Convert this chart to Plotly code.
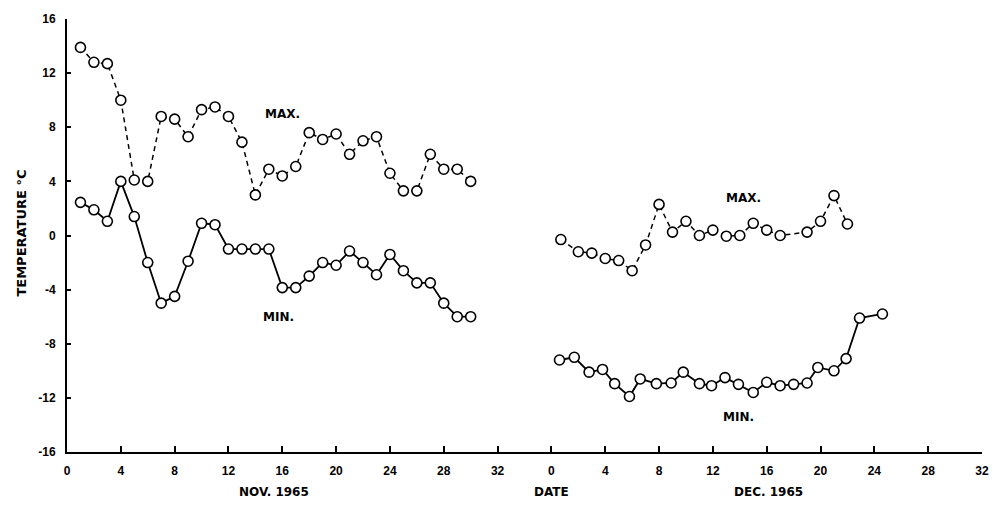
import plotly.graph_objects as go

# ---------------- data ----------------
nov_max_days = list(range(1, 31))
nov_max_vals = [13.9, 12.8, 12.7, 10.0, 4.1, 4.0, 8.8, 8.6, 7.3, 9.3,
                9.5, 8.8, 6.9, 3.0, 4.9, 4.4, 5.1, 7.6, 7.1, 7.5,
                6.0, 7.0, 7.3, 4.6, 3.3, 3.3, 6.0, 4.9, 4.9, 4.0]

nov_min_days = list(range(1, 31))
nov_min_vals = [2.45, 1.9, 1.05, 4.0, 1.4, -2.0, -5.0, -4.5, -1.9, 0.9,
                0.8, -1.0, -1.0, -1.0, -1.0, -3.85, -3.85, -3.0, -2.0, -2.2,
                -1.15, -2.0, -2.9, -1.4, -2.6, -3.5, -3.5, -5.0, -6.0, -6.0]

dec_max_days = [0.7, 2, 3, 4, 5, 6, 7, 8, 9, 10, 11, 12, 13, 14, 15, 16, 17, 19, 20, 21, 22]
dec_max_vals = [-0.3, -1.2, -1.3, -1.7, -1.85, -2.6, -0.7, 2.3, 0.25, 1.05,
                0.0, 0.4, -0.05, 0.0, 0.9, 0.4, 0.0, 0.25, 1.05, 2.95, 0.85]

dec_min_days = [0.6, 1.7, 2.8, 3.8, 4.7, 5.8, 6.6, 7.8, 8.9, 9.8, 11, 11.9, 12.9, 13.9,
                15, 16, 17, 18, 19, 19.8, 21, 21.9, 22.9, 24.6]
dec_min_vals = [-9.2, -9.0, -10.1, -9.9, -10.95, -11.9, -10.6, -10.95, -10.9, -10.1,
                -10.95, -11.1, -10.5, -11.0, -11.6, -10.85, -11.1, -11.0, -10.9, -9.75,
                -10.0, -9.1, -6.1, -5.8]

DEC_OFFSET = 36  # December axis starts 4 units after the November "32"

x_tick_vals = list(range(0, 33, 4)) + [DEC_OFFSET + d for d in range(0, 33, 4)]
x_tick_text = [str(d) for d in range(0, 33, 4)] + [str(d) for d in range(0, 33, 4)]
y_tick_vals = [16, 12, 8, 4, 0, -4, -8, -12, -16]
y_tick_text = ["16", "12", "8", "4", "0", "-4", "-8", "-12", "-16"]

TICK_FONT = "Liberation Sans"
LABEL_FONT = "DejaVu Sans"

fig = go.Figure()

marker = dict(symbol="circle", size=10, color="white", line=dict(color="black", width=1.6))

fig.add_trace(go.Scatter(x=nov_max_days, y=nov_max_vals, mode="lines+markers",
                         line=dict(color="black", width=1.5, dash="5px,4px"), marker=marker))
fig.add_trace(go.Scatter(x=nov_min_days, y=nov_min_vals, mode="lines+markers",
                         line=dict(color="black", width=1.8), marker=marker))
fig.add_trace(go.Scatter(x=[DEC_OFFSET + d for d in dec_max_days], y=dec_max_vals, mode="lines+markers",
                         line=dict(color="black", width=1.5, dash="5px,4px"), marker=marker))
fig.add_trace(go.Scatter(x=[DEC_OFFSET + d for d in dec_min_days], y=dec_min_vals, mode="lines+markers",
                         line=dict(color="black", width=1.8), marker=marker))

label_font = dict(family=LABEL_FONT, size=12, color="black", weight="bold")
annotations = [
    dict(x=16.0, y=9.0, xref="x", yref="y", text="MAX.", showarrow=False, font=label_font),
    dict(x=15.7, y=-6.0, xref="x", yref="y", text="MIN.", showarrow=False, font=label_font),
    dict(x=DEC_OFFSET + 14.3, y=2.8, xref="x", yref="y", text="MAX.", showarrow=False, font=label_font),
    dict(x=DEC_OFFSET + 13.9, y=-13.4, xref="x", yref="y", text="MIN.", showarrow=False, font=label_font),
    dict(x=15.4, y=-0.114, xref="x", yref="paper", text="NOV. 1965", showarrow=False, font=label_font),
    dict(x=36.0, y=-0.114, xref="x", yref="paper", text="DATE", showarrow=False, font=label_font),
    dict(x=52.1, y=-0.114, xref="x", yref="paper", text="DEC. 1965", showarrow=False, font=label_font),
    dict(x=-0.05, y=0.505, xref="paper", yref="paper", text="TEMPERATURE °C", textangle=-90,
         xanchor="center", yanchor="middle",
         showarrow=False, font=dict(family=LABEL_FONT, size=13, color="black", weight="bold")),
]

fig.update_layout(
    width=1001, height=512,
    margin=dict(l=67, r=13, t=15, b=60),
    paper_bgcolor="white", plot_bgcolor="white",
    showlegend=False,
    annotations=annotations,
    xaxis=dict(range=[0, 68], tickvals=x_tick_vals, ticktext=x_tick_text,
               showgrid=False, zeroline=False, showline=True, linecolor="black", linewidth=2,
               ticks="inside", ticklen=6, tickwidth=2, tickcolor="black",
               tickfont=dict(family=TICK_FONT, size=12, color="black", weight="bold"),
               ticklabelstandoff=7),
    yaxis=dict(range=[-16, 16], tickvals=y_tick_vals, ticktext=y_tick_text,
               showgrid=False, zeroline=False, showline=True, linecolor="black", linewidth=2,
               ticks="inside", ticklen=4, tickwidth=1.5, tickcolor="black",
               tickfont=dict(family=TICK_FONT, size=12, color="black", weight="bold"),
               ticklabelstandoff=7),
)

fig.write_html("out.html")
